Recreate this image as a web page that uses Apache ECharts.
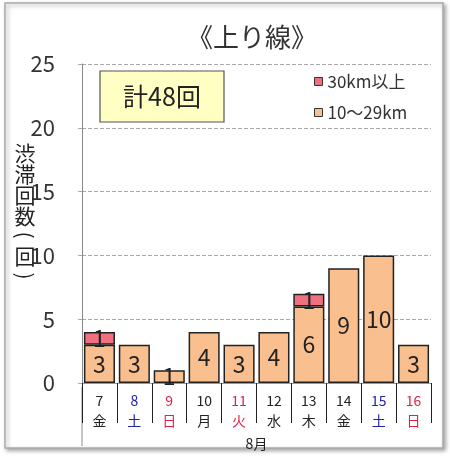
<!DOCTYPE html>
<html><head><meta charset="utf-8">
<script src="https://cdn.jsdelivr.net/npm/echarts@6/dist/echarts.min.js"></script>
<style>html,body{margin:0;padding:0;background:#fff}#c{width:450px;height:456px}</style>
</head><body><div id="c"></div>
<script>
var days = ['7','8','9','10','11','12','13','14','15','16'];
var weekdays = ['金','土','日','月','火','水','木','金','土','日'];
var dayTypes = ['k','b','r','k','r','k','k','k','b','r'];
var over30 = [1,0,0,0,0,0,1,0,0,0];
var mid10to29 = [3,3,1,4,3,4,6,9,10,3];
var yTicks = [0,5,10,15,20,25];
var total = 48;

var FONT = "'Noto Sans CJK JP', sans-serif";
var chart = echarts.init(document.getElementById('c'));
var labelStyle = {show:true, position:'inside', color:'#222', fontSize:23, fontFamily:FONT,
  formatter:function(p){return p.value ? String(p.value) : '';}};
chart.setOption({
  animation:false,
  title:{text:'《上り線》', left:247, top:19, textAlign:'center',
    textStyle:{fontSize:26, fontWeight:'normal', color:'#333', fontFamily:FONT}},
  legend:{orient:'vertical', left:309, top:68, itemGap:14, itemWidth:8, itemHeight:8,
    icon:'rect', textStyle:{fontSize:17, color:'#333', fontFamily:FONT},
    itemStyle:{borderColor:'#333', borderWidth:1},
    data:['30km以上','10～29km']},
  grid:{left:82, right:19, top:64, bottom:69},
  xAxis:{type:'category', data:days,
    axisLine:{lineStyle:{color:'#999'}},
    axisTick:{show:true, length:40, lineStyle:{color:'#222'}},
    axisLabel:{interval:0, margin:8, lineHeight:20,
      formatter:function(v, i){var t=dayTypes[i]; return '{'+t+'|'+v+'}\n{'+t+'|'+weekdays[i]+'}';},
      rich:{k:{color:'#222',fontSize:14,fontFamily:FONT},
            b:{color:'#2222aa',fontSize:14,fontFamily:FONT},
            r:{color:'#dd2244',fontSize:14,fontFamily:FONT}}},
    name:'8月', nameLocation:'middle', nameGap:54,
    nameTextStyle:{fontSize:14, color:'#222', fontFamily:FONT}},
  yAxis:{type:'value', min:yTicks[0], max:yTicks[yTicks.length-1], interval:yTicks[1]-yTicks[0],
    axisLine:{show:true, lineStyle:{color:'#888'}},
    axisTick:{show:true, length:6, lineStyle:{color:'#aaa', type:'dashed'}},
    axisLabel:{fontSize:22, color:'#333', margin:27, fontFamily:FONT},
    splitLine:{lineStyle:{color:'#aaa', type:'dashed'}}},
  series:[
    {name:'10～29km', type:'bar', stack:'a', barCategoryGap:'11%',
     data:mid10to29.map(function(v){return v||'-';}),
     itemStyle:{color:'#f9bf8f', borderColor:'#222', borderWidth:1.5},
     label:labelStyle},
    {name:'30km以上', type:'bar', stack:'a', barCategoryGap:'11%',
     data:over30.map(function(v){return v||'-';}),
     itemStyle:{color:'#f07080', borderColor:'#222', borderWidth:1.5},
     label:labelStyle}
  ],
  graphic:[
    {type:'rect', shape:{x:5,y:3,width:438,height:445}, z:-10,
     style:{fill:'#fff', stroke:'#aaa', lineWidth:1.5, shadowBlur:4, shadowColor:'rgba(0,0,0,0.35)', shadowOffsetX:2, shadowOffsetY:2}},
    {type:'line', shape:{x1:82,y1:387,x2:82,y2:446}, style:{stroke:'#888', lineWidth:1}},
    {type:'rect', shape:{x:100,y:71,width:124,height:51}, z:5,
     style:{fill:'#ffffc4', stroke:'#555', lineWidth:1.2}},
    {type:'text', x:162, y:96.5, z:6,
     style:{text:'計'+total+'回', fontSize:25, fill:'#222', fontFamily:FONT, align:'center', verticalAlign:'middle'}},
    {type:'text', x:25, y:143, z:6,
     style:{text:'渋\n滞\n回\n数', fontSize:21, lineHeight:21, fill:'#222', fontFamily:FONT, align:'center', verticalAlign:'top'}},
    {type:'text', x:25, y:235, z:6, rotation:-Math.PI/2,
     style:{text:'(', fontSize:21, fill:'#222', fontFamily:FONT, align:'center', verticalAlign:'middle'}},
    {type:'text', x:25, y:256, z:6,
     style:{text:'回', fontSize:21, fill:'#222', fontFamily:FONT, align:'center', verticalAlign:'middle'}},
    {type:'text', x:25, y:276, z:6, rotation:-Math.PI/2,
     style:{text:')', fontSize:21, fill:'#222', fontFamily:FONT, align:'center', verticalAlign:'middle'}}
  ]
});
</script></body></html>
